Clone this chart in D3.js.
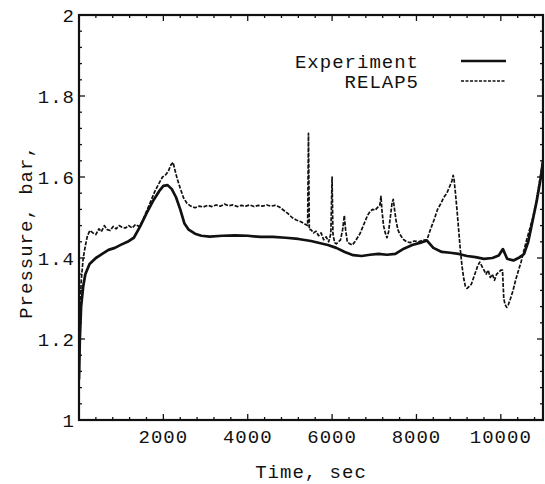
<!DOCTYPE html>
<html>
<head>
<meta charset="utf-8">
<script src="https://cdn.jsdelivr.net/npm/d3@7"></script>
<style>
  html, body { margin: 0; padding: 0; background: #fff; }
  svg text { font-family: "Liberation Mono", "Courier New", monospace; fill: #111; }
</style>
</head>
<body>
<svg id="chart" width="545" height="484"></svg>
<script>
// ---- data ----
const expTime = [0, 20, 50, 100, 150, 250, 400, 550, 700, 850, 1000, 1150, 1300, 1450, 1600, 1750, 1900, 2000, 2100, 2200, 2300, 2400, 2500, 2600, 2750, 2900, 3100, 3400, 3700, 4000, 4300, 4600, 4900, 5200, 5500, 5700, 5900, 6100, 6300, 6500, 6700, 6900, 7100, 7300, 7500, 7700, 7900, 8100, 8250, 8400, 8600, 8800, 9000, 9200, 9400, 9600, 9800, 9950, 10050, 10150, 10300, 10450, 10550, 10650, 10750, 10850, 10950, 11000];
const expPressure = [1.10, 1.20, 1.28, 1.33, 1.36, 1.385, 1.40, 1.41, 1.42, 1.425, 1.433, 1.44, 1.45, 1.478, 1.51, 1.54, 1.565, 1.578, 1.58, 1.57, 1.55, 1.52, 1.485, 1.47, 1.46, 1.455, 1.453, 1.455, 1.456, 1.455, 1.452, 1.452, 1.450, 1.447, 1.442, 1.437, 1.432, 1.425, 1.415, 1.407, 1.405, 1.408, 1.410, 1.408, 1.410, 1.423, 1.432, 1.438, 1.443, 1.425, 1.415, 1.413, 1.410, 1.405, 1.402, 1.398, 1.400, 1.406, 1.422, 1.398, 1.394, 1.402, 1.41, 1.44, 1.49, 1.54, 1.60, 1.64];

const relTime = [0, 20, 50, 100, 150, 200, 260, 330, 400, 470, 530, 600, 670, 740, 810, 880, 950, 1020, 1100, 1180, 1260, 1340, 1420, 1500, 1600, 1700, 1800, 1900, 1980, 2060, 2120, 2180, 2230, 2280, 2330, 2400, 2480, 2560, 2650, 2750, 2850, 2950, 3050, 3150, 3250, 3350, 3450, 3550, 3650, 3750, 3850, 3950, 4050, 4150, 4250, 4350, 4450, 4550, 4650, 4750, 4850, 4950, 5050, 5150, 5250, 5350, 5420, 5440, 5460, 5500, 5560, 5620, 5680, 5740, 5800, 5860, 5920, 5970, 6000, 6020, 6060, 6100, 6150, 6200, 6250, 6290, 6320, 6360, 6420, 6480, 6540, 6600, 6660, 6720, 6780, 6840, 6900, 6960, 7020, 7080, 7130, 7160, 7180, 7220, 7260, 7300, 7340, 7380, 7420, 7450, 7480, 7520, 7560, 7600, 7650, 7700, 7770, 7850, 7950, 8050, 8150, 8250, 8330, 8420, 8500, 8580, 8650, 8720, 8780, 8840, 8870, 8890, 8920, 8960, 9000, 9040, 9080, 9120, 9160, 9200, 9250, 9300, 9350, 9400, 9450, 9500, 9550, 9600, 9650, 9700, 9750, 9800, 9850, 9900, 9950, 10000, 10040, 10070, 10100, 10140, 10180, 10230, 10290, 10350, 10420, 10480, 10540, 10600, 10680, 10760, 10840, 10920, 11000];
const relPressure = [1.12, 1.25, 1.34, 1.40, 1.43, 1.455, 1.468, 1.462, 1.458, 1.472, 1.465, 1.48, 1.47, 1.468, 1.478, 1.472, 1.48, 1.476, 1.474, 1.48, 1.474, 1.483, 1.478, 1.49, 1.515, 1.54, 1.565, 1.585, 1.60, 1.606, 1.615, 1.63, 1.636, 1.615, 1.595, 1.572, 1.548, 1.535, 1.528, 1.524, 1.528, 1.526, 1.530, 1.527, 1.531, 1.528, 1.533, 1.529, 1.531, 1.527, 1.530, 1.528, 1.531, 1.527, 1.530, 1.528, 1.531, 1.528, 1.530, 1.526, 1.518, 1.51, 1.50, 1.494, 1.49, 1.484, 1.48, 1.708, 1.47, 1.47, 1.462, 1.466, 1.455, 1.462, 1.445, 1.452, 1.44, 1.46, 1.60, 1.46, 1.438, 1.435, 1.44, 1.445, 1.47, 1.505, 1.47, 1.44, 1.435, 1.432, 1.44, 1.45, 1.46, 1.475, 1.49, 1.505, 1.515, 1.52, 1.518, 1.525, 1.53, 1.552, 1.52, 1.48, 1.462, 1.45, 1.465, 1.50, 1.535, 1.545, 1.52, 1.49, 1.47, 1.46, 1.452, 1.445, 1.44, 1.438, 1.442, 1.44, 1.444, 1.445, 1.47, 1.495, 1.52, 1.535, 1.55, 1.56, 1.575, 1.59, 1.604, 1.595, 1.565, 1.52, 1.47, 1.42, 1.38, 1.35, 1.33, 1.325, 1.33, 1.335, 1.35, 1.365, 1.38, 1.39, 1.38, 1.37, 1.36, 1.37, 1.352, 1.36, 1.345, 1.36, 1.365, 1.37, 1.37, 1.30, 1.285, 1.278, 1.285, 1.30, 1.32, 1.345, 1.37, 1.39, 1.415, 1.44, 1.47, 1.50, 1.54, 1.59, 1.64];

const xTicks = [2000, 4000, 6000, 8000, 10000];
const yTicks = [1, 1.2, 1.4, 1.6, 1.8, 2];
const yTickLabels = ["1", "1.2", "1.4", "1.6", "1.8", "2"];
const seriesNames = ["Experiment", "RELAP5"];
const xTitle = "Time, sec";
const yTitle = "Pressure, bar,";

// ---- drawing ----
const svg = d3.select("#chart");
const pLeft = 79, pRight = 543, pTop = 15, pBottom = 420;
const x = d3.scaleLinear().domain([0, 11000]).range([pLeft, pRight]);
const y = d3.scaleLinear().domain([1, 2]).range([pBottom, pTop]);

const fontSize = 19;
const g = svg.append("g");

// inward ticks on all sides
const xMinor = d3.range(400, 11000, 400);
const yMinor = d3.range(1.04, 2.0, 0.04);
const tickG = g.append("g").attr("stroke", "#111").attr("stroke-width", 1.3);
xMinor.forEach(t => {
  const len = (Math.round(t) % 2000 === 0) ? 6 : 3;
  tickG.append("line").attr("x1", x(t)).attr("x2", x(t)).attr("y1", pBottom).attr("y2", pBottom - len);
  tickG.append("line").attr("x1", x(t)).attr("x2", x(t)).attr("y1", pTop).attr("y2", pTop + len);
});
yMinor.forEach(v => {
  const isMajor = Math.abs(v * 5 - Math.round(v * 5)) < 1e-6;
  const len = isMajor ? 6 : 3;
  tickG.append("line").attr("x1", pLeft).attr("x2", pLeft + len).attr("y1", y(v)).attr("y2", y(v));
  tickG.append("line").attr("x1", pRight).attr("x2", pRight - len).attr("y1", y(v)).attr("y2", y(v));
});

// frame
g.append("rect").attr("x", pLeft).attr("y", pTop).attr("width", pRight - pLeft).attr("height", pBottom - pTop)
  .attr("fill", "none").attr("stroke", "#111").attr("stroke-width", 2.2);

// tick labels
g.selectAll("text.xt").data(xTicks).enter().append("text")
  .attr("class", "xt").attr("x", d => x(d)).attr("y", 443)
  .attr("text-anchor", "middle").style("font-size", fontSize + "px").style("letter-spacing", "1px")
  .text(d => String(d));
g.selectAll("text.yt").data(yTicks).enter().append("text")
  .attr("class", "yt").attr("x", 75).attr("y", d => y(d)).attr("dy", "0.35em")
  .attr("text-anchor", "end").style("font-size", fontSize + "px").style("letter-spacing", "1px")
  .text((d, i) => yTickLabels[i]);

// axis titles
g.append("text").attr("x", 311).attr("y", 478).attr("text-anchor", "middle")
  .style("font-size", fontSize + "px").style("letter-spacing", "1px").text(xTitle);
g.append("text").attr("transform", "translate(32,232) rotate(-90)").attr("text-anchor", "middle")
  .style("font-size", fontSize + "px").style("letter-spacing", "1px").text(yTitle);

// lines
const line = d3.line().x(d => x(d[0])).y(d => y(d[1]));
const expData = expTime.map((t, i) => [t, expPressure[i]]);
const relData = relTime.map((t, i) => [t, relPressure[i]]);

svg.append("clipPath").attr("id", "clip").append("rect")
  .attr("x", pLeft).attr("y", pTop).attr("width", pRight - pLeft).attr("height", pBottom - pTop);

g.append("path").datum(relData).attr("d", line).attr("clip-path", "url(#clip)")
  .attr("fill", "none").attr("stroke", "#111").attr("stroke-width", 1.7)
  .attr("stroke-dasharray", "4,1.5").attr("stroke-linejoin", "round");
g.append("path").datum(expData).attr("d", line).attr("clip-path", "url(#clip)")
  .attr("fill", "none").attr("stroke", "#111").attr("stroke-width", 2.7)
  .attr("stroke-linejoin", "round");

// legend
const legY = [61, 81];
seriesNames.forEach((name, i) => {
  g.append("text").attr("x", 419).attr("y", legY[i]).attr("dy", "0.35em")
    .attr("text-anchor", "end").style("font-size", fontSize + "px").style("letter-spacing", "1px").text(name);
  const ln = g.append("line").attr("x1", 461).attr("x2", 506).attr("y1", legY[i]).attr("y2", legY[i])
    .attr("stroke", "#111");
  if (i === 0) ln.attr("stroke-width", 2.5);
  else ln.attr("stroke-width", 1.5).attr("stroke-dasharray", "3,1.5");
});
</script>
</body>
</html>
